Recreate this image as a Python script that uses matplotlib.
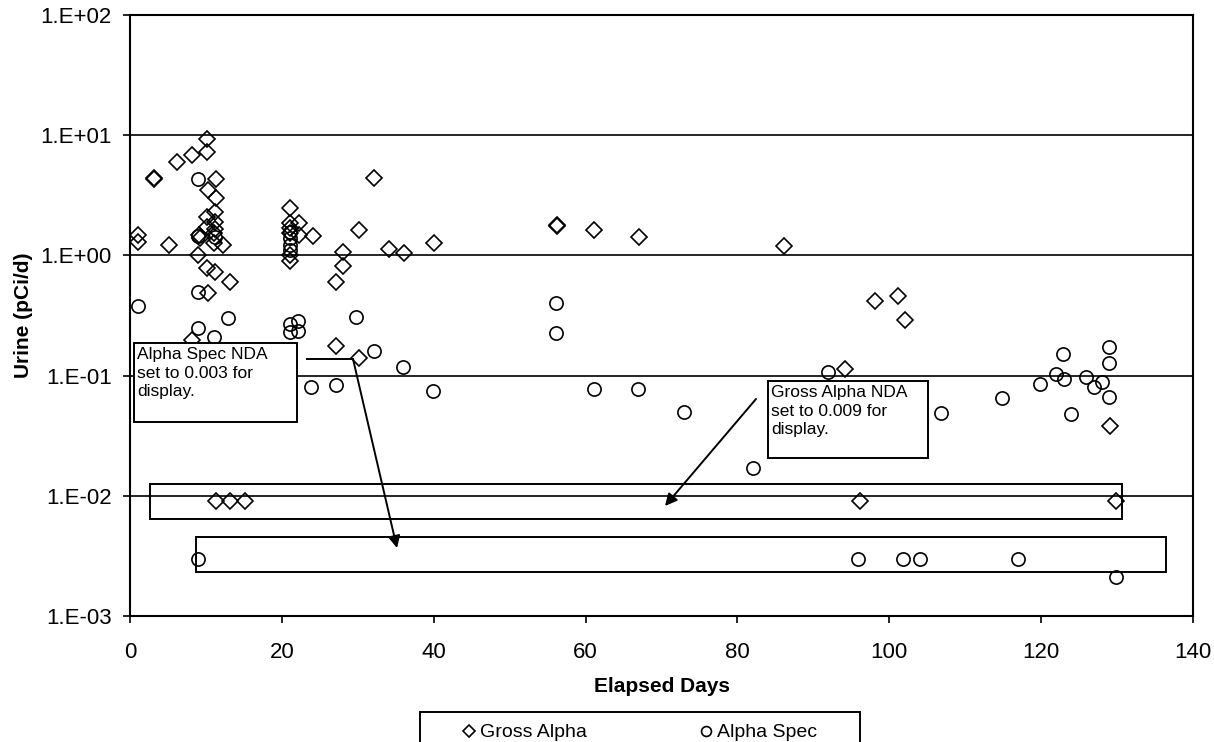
import numpy as np
import matplotlib
matplotlib.use("Agg")
from matplotlib import pyplot as plt
from matplotlib.patches import Rectangle
from matplotlib.lines import Line2D

plt.rcParams['font.family'] = ['Liberation Sans', 'DejaVu Sans']

# Gross Alpha results (days, pCi/d)
ga_days = [1.1, 1.1, 3.1, 3.1, 5.2, 6.2, 8.2, 8.1, 9.1, 9.2, 9.0, 10.2, 10.2, 10.3, 10.1,
           10.2, 10.1, 10.3, 11.3, 11.3, 11.2, 11.2, 11.2, 11.1, 11.0, 11.2, 12.2, 13.2,
           21.1, 21.1, 22.2, 21.1, 21.1, 21.1, 21.1, 22.3, 24.1, 27.1, 27.1, 28.1, 28.1,
           30.2, 30.2, 32.1, 34.1, 36.1, 40.1, 56.2, 56.2, 61.1, 67.1, 86.1, 94.2, 98.1,
           101.1, 102.1, 129.1]
ga_vals = [1.48, 1.30, 4.4, 4.3, 1.22, 6.0, 6.8, 0.198, 1.48, 1.40, 1.0, 9.3, 7.3, 3.5, 2.07,
           1.73, 0.78, 0.49, 4.3, 3.0, 2.3, 1.9, 1.67, 1.53, 1.26, 0.73, 1.22, 0.60,
           2.47, 1.85, 1.85, 1.7, 1.55, 1.0, 0.9, 1.47, 1.46, 0.60, 0.177, 1.06, 0.81,
           1.63, 0.139, 4.4, 1.13, 1.05, 1.26, 1.75, 1.8, 1.63, 1.41, 1.2, 0.113, 0.42,
           0.46, 0.29, 0.038]
# Gross Alpha NDA results, shown at 0.009
ga_nda_days = [11.3, 13.2, 15.1, 96.1, 129.9]
ga_nda_val = 0.009

# Alpha Spec results
as_days = [1.1, 8.9, 9.0, 11.2, 8.9, 9.0, 11.0, 12.9, 21.1, 21.1, 21.1, 21.1, 21.1, 22.1,
           21.1, 22.1, 23.9, 27.1, 29.7, 32.1, 36.0, 39.9, 56.1, 56.1, 61.1, 66.9, 72.9,
           82.0, 91.9, 106.8, 114.9, 119.9, 121.9, 122.9, 123.0, 123.9, 125.9, 126.9,
           128.0, 128.9, 128.9, 128.9, 129.8]
as_vals = [0.38, 4.3, 1.45, 1.43, 0.50, 0.247, 0.21, 0.30, 1.57, 1.39, 1.22, 1.10, 0.268,
           0.286, 0.229, 0.236, 0.081, 0.0835, 0.31, 0.161, 0.119, 0.075, 0.40, 0.225,
           0.0774, 0.0774, 0.0496, 0.0169, 0.108, 0.049, 0.0655, 0.0848, 0.1026, 0.150,
           0.0938, 0.0478, 0.098, 0.081, 0.089, 0.172, 0.128, 0.0668, 0.0021]
# Alpha Spec NDA results, shown at 0.003
as_nda_days = [8.9, 95.9, 101.8, 104.0, 116.9]
as_nda_val = 0.003

x_ticks = [0, 20, 40, 60, 80, 100, 120, 140]
y_ticks = [1e-3, 1e-2, 1e-1, 1e0, 1e1, 1e2]

W, H = 1214, 742


def fp(px, py):
    # reference pixel -> figure fraction
    return (px / W, 1 - py / H)


fig = plt.figure(figsize=(W / 100, H / 100), dpi=100)
ax = fig.add_axes([130 / W, 1 - 616 / H, (1193 - 130) / W, (616 - 15) / H])

mk = dict(linestyle='none', mfc='none', mec='black', mew=1.2)
ax.plot(ga_days + ga_nda_days, ga_vals + [ga_nda_val] * len(ga_nda_days),
        marker='D', ms=7.8, label='Gross Alpha', **mk)
ax.plot(as_days + as_nda_days, as_vals + [as_nda_val] * len(as_nda_days),
        marker='o', ms=9.5, label='Alpha Spec', **mk)

ax.set_yscale('log')
ax.set_xlim(0, 140)
ax.set_ylim(1e-3, 1e2)
ax.set_xticks(x_ticks)
ax.set_yticks(y_ticks)
ax.set_yticklabels(["1.E%+03d" % int(round(np.log10(v))) for v in y_ticks])
ax.minorticks_off()
ax.yaxis.grid(True, color='black', linewidth=1.2)
ax.set_axisbelow(True)
ax.tick_params(direction='out', length=5, width=1.2, labelsize=16, colors='black')
ax.tick_params(axis='x', pad=14)
ax.tick_params(axis='y', pad=8)
for s in ax.spines.values():
    s.set_linewidth(1.5)

ax.set_xlabel("Elapsed Days", fontsize=15, fontweight='bold')
ax.set_ylabel("Urine (pCi/d)", fontsize=15, fontweight='bold')
ax.xaxis.set_label_coords(0.5, -(677 - 616) / 601)
ax.yaxis.set_label_coords(-(130 - 33) / 1063, 0.5)

# boxes around the NDA points
ax.add_patch(Rectangle((0.0188, 0.1614), 0.9144, 0.0582, transform=ax.transAxes,
                       fill=False, edgecolor='black', linewidth=1.4, zorder=3))
ax.add_patch(Rectangle((0.0618, 0.0724), 0.9128, 0.0590, transform=ax.transAxes,
                       fill=False, edgecolor='black', linewidth=1.4, zorder=3))

# text boxes
for (x0, y0, x1, y1), txt in [((134, 343, 297, 422), "Alpha Spec NDA\nset to 0.003 for\ndisplay."),
                              ((768, 381, 928, 458), "Gross Alpha NDA\nset to 0.009 for\ndisplay.")]:
    fig.add_artist(Rectangle(fp(x0, y1), (x1 - x0) / W, (y1 - y0) / H, transform=fig.transFigure,
                             facecolor='white', edgecolor='black', linewidth=1.4, zorder=5))
    fig.text(*fp(x0 + 3, y0 + 4), txt, fontsize=12.5, va='top', ha='left',
             linespacing=1.3, zorder=6)

# arrows
fig.add_artist(Line2D([307 / W, 353 / W], [1 - 359 / H, 1 - 359 / H], color='black',
                      linewidth=1.4))
arr = dict(arrowstyle='-|>', color='black', lw=1.4, mutation_scale=18, shrinkA=0, shrinkB=0)
ax.annotate("", xy=fp(397, 548), xytext=fp(353, 359), xycoords='figure fraction',
            textcoords='figure fraction', arrowprops=arr)
ax.annotate("", xy=fp(665, 506), xytext=fp(756, 399), xycoords='figure fraction',
            textcoords='figure fraction', arrowprops=arr)

# legend, frame drawn separately
fig.legend(loc='upper center', bbox_to_anchor=fp(640, 714), ncol=2, fontsize=14,
           frameon=False, markerscale=0.75, handlelength=0.6, handletextpad=0.3,
           columnspacing=5.8, borderpad=0.0)
fig.add_artist(Rectangle(fp(420, 745), 440 / W, 33 / H, transform=fig.transFigure,
                         fill=False, edgecolor='black', linewidth=1.4))

plt.savefig("out.png", dpi=100)
